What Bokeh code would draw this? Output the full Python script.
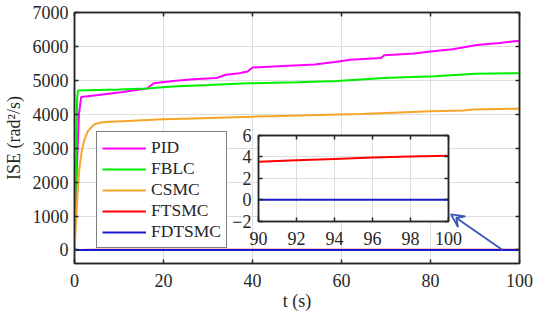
from bokeh.plotting import figure
from bokeh.layouts import column
from bokeh.models import (Range1d, LinearAxis, FixedTicker, CustomJSTickFormatter,
                          Arrow, VeeHead)
from bokeh.embed import file_html
from bokeh.resources import INLINE

# ---------------- data ----------------
t_pid = [0, 0.3, 0.7, 1.0, 1.5, 4.4, 10.4, 16.3, 17.8, 22.2, 26.7, 31.9, 34, 37, 38.9,
         40, 48, 54, 58.5, 62, 68.9, 69.6, 76.3, 80, 85, 90.4, 95.6, 100]
v_pid = [0, 1500, 3000, 4000, 4510, 4555, 4648, 4760, 4912, 4977, 5030, 5070, 5166, 5211,
         5259, 5380, 5428, 5465, 5541, 5606, 5662, 5738, 5794, 5850, 5915, 6039, 6104, 6169]

t_fblc = [0, 0.3, 0.6, 0.8, 5, 10, 16.3, 22, 30, 39, 50, 59, 69.6, 81, 90, 100]
v_fblc = [0, 2000, 4500, 4700, 4715, 4730, 4760, 4817, 4860, 4912, 4945, 4977, 5070,
          5118, 5193, 5211]

t_csmc = [0, 0.3, 0.7, 1.1, 1.6, 2.2, 3.0, 4.4, 5.9, 8, 11.9, 20, 26.7, 40, 44.4, 59.3,
          64.4, 80, 87.4, 89.6, 100]
v_csmc = [0, 700, 1700, 2400, 2900, 3240, 3500, 3700, 3757, 3780, 3803, 3850, 3878, 3930,
          3944, 3992, 4007, 4085, 4110, 4141, 4165]

t_ftsmc = [0, 1, 5, 10, 20, 40, 60, 80, 90, 92, 94, 96, 98, 100]
v_ftsmc = [0, 1.5, 2.0, 2.3, 2.6, 3.0, 3.3, 3.5, 3.55, 3.7, 3.82, 3.94, 4.04, 4.12]

t_fdtsmc = [0, 20, 40, 60, 80, 90, 95, 100]
v_fdtsmc = [0.02, 0.02, 0.02, 0.02, 0.02, 0.02, 0.02, 0.02]

x_ticks = [0, 20, 40, 60, 80, 100]
y_ticks = [0, 1000, 2000, 3000, 4000, 5000, 6000, 7000]
inset_x_ticks = [90, 92, 94, 96, 98, 100]
inset_y_ticks = [-2, 0, 2, 4, 6]

arrow_from = (96.2, 0)
arrow_to = (84.6, 1050)

series = [
    ("PID", t_pid, v_pid, "#FF00FF"),
    ("FBLC", t_fblc, v_fblc, "#00F000"),
    ("CSMC", t_csmc, v_csmc, "#F5A52A"),
    ("FTSMC", t_ftsmc, v_ftsmc, "#FF0000"),
    ("FDTSMC", t_fdtsmc, v_fdtsmc, "#1A1ACD"),
]

FONT = "Liberation Serif, Times New Roman, serif"
AX = "#262626"
GRID = "#DEDEDE"
FS = "18px"

blank = CustomJSTickFormatter(code="return ''")


def style_axis(ax, labels=True):
    ax.axis_line_color = AX
    ax.axis_line_width = 1.5
    ax.major_tick_line_color = AX
    ax.major_tick_line_width = 1.5
    ax.major_tick_in = 4
    ax.major_tick_out = 0
    ax.minor_tick_line_color = None
    ax.major_label_text_font = FONT
    ax.major_label_text_font_size = FS
    ax.major_label_text_font_style = "normal"
    ax.major_label_text_color = AX
    ax.axis_label_text_font = FONT
    ax.axis_label_text_font_size = FS
    ax.axis_label_text_font_style = "normal"
    ax.axis_label_text_color = AX
    if not labels:
        ax.formatter = blank
        ax.major_label_standoff = 0


# ---------------- main figure ----------------
p = figure(width=534, height=313, output_backend="svg", toolbar_location=None,
           x_range=Range1d(0, 100), y_range=Range1d(-400, 7000),
           min_border_left=74, min_border_right=15, min_border_top=12, min_border_bottom=46)
p.background_fill_color = "white"
p.border_fill_color = "white"
p.outline_line_color = AX
p.outline_line_width = 1.5

p.xaxis.ticker = FixedTicker(ticks=x_ticks)
p.yaxis.ticker = FixedTicker(ticks=y_ticks)
p.xaxis.axis_label = "t (s)"
p.yaxis.axis_label = "ISE (rad²/s)"
style_axis(p.xaxis[0])
style_axis(p.yaxis[0])
p.xaxis.major_label_standoff = 10
p.yaxis.major_label_standoff = 6
p.xaxis.axis_label_standoff = 1
p.yaxis.axis_label_standoff = 6

ra = LinearAxis(ticker=FixedTicker(ticks=y_ticks))
style_axis(ra, labels=False)
p.add_layout(ra, "right")
ta = LinearAxis(ticker=FixedTicker(ticks=x_ticks))
style_axis(ta, labels=False)
p.add_layout(ta, "above")

p.xgrid.ticker = FixedTicker(ticks=x_ticks)
p.ygrid.ticker = FixedTicker(ticks=y_ticks)
p.grid.grid_line_color = GRID
p.grid.grid_line_width = 1

for name, t, v, c in series:
    p.line(t, v, line_color=c, line_width=2, legend_label=name)

p.add_layout(Arrow(end=VeeHead(size=13, line_color="#3A54B8", line_width=1.8, fill_color=None),
                   x_start=arrow_from[0], y_start=arrow_from[1],
                   x_end=arrow_to[0], y_end=arrow_to[1],
                   line_color="#3A54B8", line_width=1.8))

lg = p.legend[0]
lg.location = (22, 15)
lg.label_text_font = FONT
lg.label_text_font_size = "17.5px"
lg.label_text_color = AX
lg.label_height = 16
lg.glyph_height = 16
lg.glyph_width = 44
lg.label_standoff = 5
lg.spacing = 0
lg.padding = 5
lg.margin = 0
lg.border_line_color = "#000000"
lg.border_line_width = 1.5
lg.background_fill_color = "white"
lg.background_fill_alpha = 1

# ---------------- inset figure ----------------
# (a column aligns the left/right borders of its plots with the main figure's)
ins = figure(width=279, height=126, output_backend="svg", toolbar_location=None,
             x_range=Range1d(90, 100), y_range=Range1d(-2.01, 6),
             min_border_left=74, min_border_right=15, min_border_top=12, min_border_bottom=28)
ins.background_fill_color = "white"
ins.border_fill_alpha = 0
ins.outline_line_color = AX
ins.outline_line_width = 1.5
ins.xaxis.ticker = FixedTicker(ticks=inset_x_ticks)
ins.yaxis.ticker = FixedTicker(ticks=inset_y_ticks)
style_axis(ins.xaxis[0])
style_axis(ins.yaxis[0])
ins.xaxis.major_label_standoff = 10
ins.yaxis.major_label_standoff = 7
ira = LinearAxis(ticker=FixedTicker(ticks=inset_y_ticks))
style_axis(ira, labels=False)
ins.add_layout(ira, "right")
ita = LinearAxis(ticker=FixedTicker(ticks=inset_x_ticks))
style_axis(ita, labels=False)
ins.add_layout(ita, "above")
ins.xgrid.ticker = FixedTicker(ticks=inset_x_ticks)
ins.ygrid.ticker = FixedTicker(ticks=inset_y_ticks)
ins.grid.grid_line_color = GRID
ins.grid.grid_line_width = 1
for name, t, v, c in series[3:]:
    ins.line(t, v, line_color=c, line_width=2)

ins.margin = (-190, 0, 0, 184)

layout = column(p, ins)
open("out.html", "w").write(file_html(layout, INLINE))
